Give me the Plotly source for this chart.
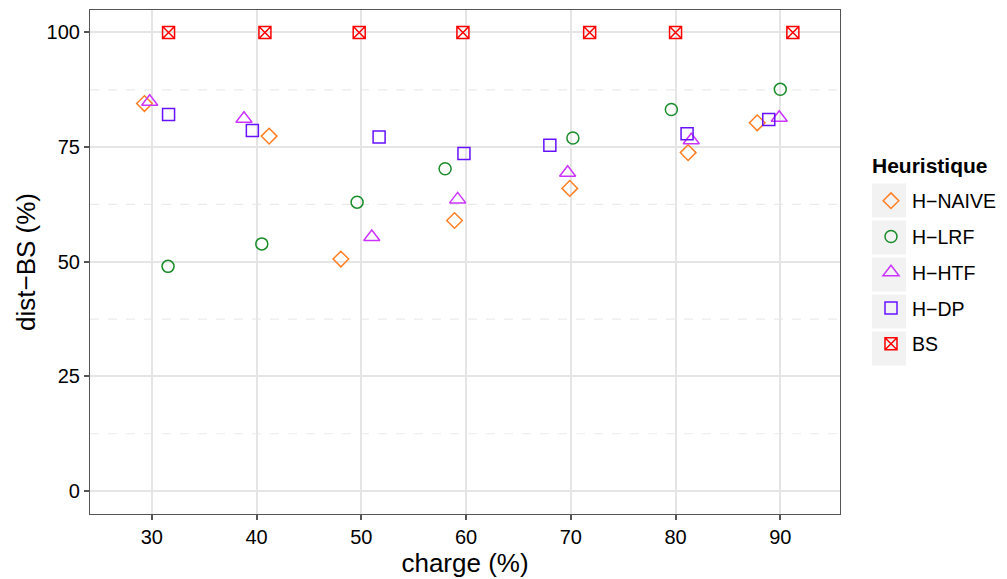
import plotly.graph_objects as go

# ---- data ----
naive_x = [29.3, 41.2, 48.05, 58.9, 69.9, 81.2, 87.8]
naive_y = [84.5, 77.4, 50.6, 59.0, 66.0, 73.8, 80.3]

lrf_x = [31.55, 40.5, 49.6, 58.0, 70.2, 79.6, 90.0]
lrf_y = [49.0, 53.9, 63.0, 70.3, 77.0, 83.2, 87.6]

htf_x = [29.8, 38.8, 51.0, 59.2, 69.7, 81.5, 89.9]
htf_y = [84.9, 81.2, 55.4, 63.6, 69.4, 76.5, 81.4]

dp_x = [31.6, 39.6, 51.7, 59.8, 68.0, 81.1, 88.9]
dp_y = [82.1, 78.6, 77.2, 73.6, 75.4, 77.9, 81.0]

bs_x = [31.6, 40.8, 49.8, 59.7, 71.8, 80.0, 91.2]
bs_y = [100, 100, 100, 100, 100, 100, 100]

x_ticks = [30, 40, 50, 60, 70, 80, 90]
y_ticks = [0, 25, 50, 75, 100]
y_minor = [12.5, 37.5, 62.5, 87.5]

series = [
    ("H\u2212NAIVE", naive_x, naive_y, "diamond-open", "#FF7F24", 12),
    ("H\u2212LRF", lrf_x, lrf_y, "circle-open", "#1A8C2A", 12),
    ("H\u2212HTF", htf_x, htf_y, "triangle-up-open", "#CC33FF", 14),
    ("H\u2212DP", dp_x, dp_y, "square-open", "#6611FF", 12),
    ("BS", bs_x, bs_y, "square-x-open", "#FF0000", 12),
]

FONT = "Liberation Sans, Arial, sans-serif"
W, H = 1007, 579
ML, MR, MT, MB = 82, 175, 2, 73
# actual plot-area edges on the page (page has an 8px body offset)
PL, PB = 90, 514
pw = W - ML - MR
ph = H - MT - MB

def px_x(p):
    return (p - PL) / pw

def px_y(p):
    return (PB - p) / ph

fig = go.Figure()
for i, (name, xs, ys, sym, col, sz) in enumerate(series):
    fig.add_trace(go.Scatter(
        x=xs, y=ys, mode="markers", name=name, legendgroup=str(i),
        marker=dict(symbol=sym, size=sz, color=col, line=dict(color=col, width=1.5)),
    ))

# minor dashed horizontal grid lines
shapes = []
for v in y_minor:
    shapes.append(dict(type="line", xref="paper", yref="y", x0=0, x1=1, y0=v, y1=v,
                       line=dict(color="#EBEBEB", width=1.2, dash="dash"), layer="below"))

# legend key backgrounds (grey boxes)
key_left, key_right = 872, 906
key_tops = [183.5, 220.5, 257.5, 294.5, 331.5]
for t in key_tops:
    shapes.append(dict(type="rect", xref="paper", yref="paper",
                       x0=px_x(key_left), x1=px_x(key_right),
                       y0=px_y(t + 34), y1=px_y(t),
                       fillcolor="#F2F2F2", line=dict(width=0), layer="below"))

fig.update_layout(
    width=W, height=H,
    margin=dict(l=ML, r=MR, t=MT, b=MB),
    paper_bgcolor="white", plot_bgcolor="white",
    font=dict(family=FONT, size=20, color="black"),
    shapes=shapes,
    annotations=[dict(text="<b>Heuristique</b>", xref="paper", yref="paper",
                      x=px_x(870), y=px_y(165), xanchor="left", yanchor="middle",
                      showarrow=False, font=dict(size=21, color="black"))],
    showlegend=True,
    legend=dict(
        x=px_x(870), xanchor="left", y=px_y(181.5), yanchor="top",
        font=dict(size=19.5), tracegroupgap=7.4,
        bgcolor="rgba(0,0,0,0)", itemwidth=32,
    ),
    xaxis=dict(
        range=[24.1, 95.7], tickvals=x_ticks, ticktext=[str(v) for v in x_ticks],
        showgrid=True, gridcolor="#E5E5E5", gridwidth=1.5, zeroline=False,
        showline=True, linecolor="#555555", linewidth=1.2, mirror=True,
        ticks="outside", ticklen=5, tickcolor="#555555", tickwidth=1.5,
        tickfont=dict(size=20, color="black"),
        title=dict(text="charge (%)", font=dict(size=26), standoff=3),
    ),
    yaxis=dict(
        range=[-5.0, 104.9], tickvals=y_ticks, ticktext=[str(v) for v in y_ticks],
        showgrid=True, gridcolor="#E5E5E5", gridwidth=1.5, zeroline=False,
        showline=True, linecolor="#555555", linewidth=1.2, mirror=True,
        ticks="outside", ticklen=5, tickcolor="#555555", tickwidth=1.5,
        tickfont=dict(size=20, color="black"),
        title=dict(text="dist\u2212BS (%)", font=dict(size=26), standoff=3),
    ),
)

fig.write_html("out.html", config={"displayModeBar": False})
